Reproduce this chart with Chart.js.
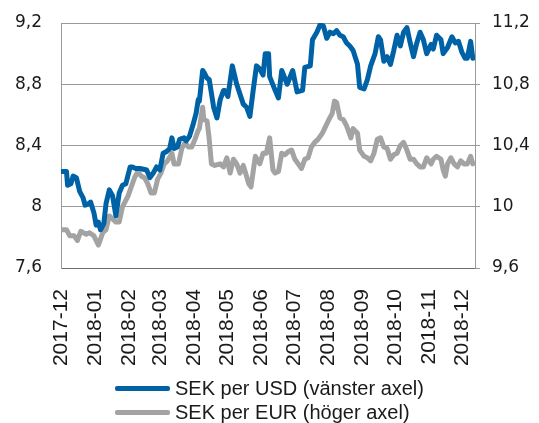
<!DOCTYPE html>
<html>
<head>
<meta charset="utf-8">
<script src="https://cdn.jsdelivr.net/npm/chart.js@4"></script>
<style>
  body { margin: 0; background: #fff; }
  #wrap { position: relative; width: 539px; height: 423px; }
  #legend { position: absolute; left: 115px; top: 376px; font: 20px "Liberation Sans", Arial, sans-serif; color: #1a1a1a; }
  .row { display: flex; align-items: center; height: 24px; }
  .swatch { width: 55px; height: 5px; border-radius: 2px; margin-right: 5px; }
</style>
</head>
<body>
<div id="wrap">
  <canvas id="myChart" width="539" height="423"></canvas>
  <div id="legend"></div>
</div>
<script>
  // x axis is days since 2017-12-01; labels at the first day of each month
  const monthLabels = ['2017-12','2018-01','2018-02','2018-03','2018-04','2018-05','2018-06',
    '2018-07','2018-08','2018-09','2018-10','2018-11','2018-12'];
  const monthStartDay = [0, 31, 62, 90, 121, 151, 182, 212, 243, 274, 304, 335, 365];
  const lastAxisDay = 377;

  const leftTicks = [7.6, 8, 8.4, 8.8, 9.2];
  const rightTicks = [9.6, 10, 10.4, 10.8, 11.2];

  // SEK per USD
  const usdDay = [0,5,6,9,11,14,17,20,22,25,27,30,32,34,36,39,41,44,47,50,
    53,56,59,63,65,68,72,78,81,84,87,90,93,96,99,101,103,106,108,112,
    114,117,120,123,125,126,129,130,133,135,139,142,145,148,149,152,156,160,166,169,
    172,175,178,181,184,186,189,190,195,198,201,206,211,215,220,222,227,229,233,236,
    239,242,245,248,251,254,257,260,263,266,270,272,276,279,282,286,289,291,294,297,
    300,303,306,309,312,315,318,321,324,327,330,333,337,339,342,346,348,352,356,359,
    362,365,368,370,373,375];
  const usdValue = [8.23,8.23,8.14,8.15,8.2,8.19,8.1,8.06,8.01,8.02,8.03,7.96,7.88,7.9,7.85,7.89,8.02,8.11,8.07,7.94,
    8.09,8.14,8.15,8.26,8.26,8.25,8.25,8.24,8.19,8.22,8.26,8.24,8.35,8.36,8.38,8.45,8.38,8.39,8.44,8.45,
    8.43,8.46,8.53,8.61,8.7,8.69,8.89,8.88,8.84,8.83,8.65,8.58,8.7,8.76,8.76,8.72,8.92,8.8,8.67,8.65,
    8.59,8.76,8.92,8.9,8.86,9.0,9.0,8.85,8.76,8.71,8.89,8.8,8.89,8.75,8.76,8.91,8.92,9.09,9.14,9.19,
    9.18,9.1,9.14,9.13,9.15,9.12,9.11,9.07,9.05,9.02,8.93,8.78,8.77,8.83,8.92,9.0,9.11,9.09,8.95,8.98,
    8.93,9.02,9.12,9.05,9.14,9.17,9.07,8.98,9.07,9.14,9.09,9.0,9.06,9.03,9.12,9.09,9.0,9.04,9.11,9.07,
    9.08,9.01,8.97,8.97,9.08,8.97];

  // SEK per EUR
  const eurDay = [0,5,8,12,15,18,23,26,30,34,38,41,44,47,50,53,56,61,64,67,
    70,73,76,79,82,85,88,91,94,97,101,103,107,110,113,116,119,122,125,126,
    129,130,133,135,137,140,145,148,151,154,157,160,163,166,171,173,177,181,184,187,
    190,193,195,198,201,204,207,210,213,216,219,222,225,228,231,234,238,240,244,247,
    249,251,254,257,260,262,264,266,270,272,276,279,282,285,288,291,294,297,300,303,
    306,309,312,315,318,321,324,327,330,333,337,339,342,346,348,350,352,355,358,361,
    364,367,370,373,375];
  const eurValue = [9.85,9.85,9.81,9.81,9.78,9.84,9.82,9.83,9.81,9.75,9.83,9.85,9.94,9.92,9.9,9.9,10.0,10.07,10.13,10.19,
    10.23,10.2,10.19,10.15,10.09,10.09,10.18,10.22,10.28,10.3,10.35,10.28,10.28,10.38,10.42,10.39,10.39,10.44,10.5,10.51,
    10.65,10.57,10.56,10.44,10.28,10.27,10.28,10.26,10.32,10.22,10.31,10.28,10.22,10.27,10.15,10.13,10.33,10.28,10.35,10.35,
    10.45,10.24,10.22,10.23,10.35,10.34,10.36,10.37,10.31,10.28,10.25,10.31,10.32,10.39,10.42,10.44,10.48,10.51,10.57,10.61,
    10.69,10.68,10.58,10.57,10.53,10.49,10.45,10.51,10.48,10.37,10.33,10.32,10.3,10.35,10.44,10.45,10.39,10.38,10.31,10.34,
    10.35,10.4,10.42,10.37,10.31,10.31,10.28,10.26,10.26,10.32,10.28,10.31,10.33,10.31,10.24,10.2,10.28,10.32,10.28,10.26,
    10.3,10.28,10.28,10.33,10.28];

  const seriesNames = ['SEK per USD (vänster axel)', 'SEK per EUR (höger axel)'];
  const seriesColors = ['rgb(0, 98, 166)', 'rgb(163, 163, 163)'];

  const toPoints = (xs, ys) => xs.map((x, i) => ({ x: x, y: ys[i] }));
  const fmt = v => String(Math.round(v * 10) / 10).replace('.', ',');

  const tickFont = { family: '"DejaVu Sans", sans-serif', size: 17 };

  const ctx = document.getElementById('myChart');

  new Chart(ctx, {
    type: 'line',
    data: {
      datasets: [{
        label: seriesNames[0],
        data: toPoints(usdDay, usdValue),
        borderColor: seriesColors[0],
        yAxisID: 'y'
      }, {
        label: seriesNames[1],
        data: toPoints(eurDay, eurValue),
        borderColor: seriesColors[1],
        yAxisID: 'y1'
      }]
    },
    options: {
      responsive: false,
      animation: false,
      layout: { padding: { top: 23, left: 0, right: 0, bottom: 0 } },
      elements: {
        point: { radius: 0 },
        line: { borderWidth: 5, tension: 0, borderJoinStyle: 'round', borderCapStyle: 'round' }
      },
      plugins: { legend: { display: false }, tooltip: { enabled: false } },
      scales: {
        x: {
          type: 'linear',
          min: 0,
          max: lastAxisDay,
          afterBuildTicks: s => { s.ticks = monthStartDay.map(d => ({ value: d })); },
          afterFit: s => { s.height = 155; },
          grid: { display: false },
          border: { display: true, color: '#6e6e6e', width: 1 },
          ticks: {
            minRotation: 90,
            maxRotation: 90,
            padding: 13,
            color: '#1a1a1a',
            font: { family: '"Liberation Sans", Arial, sans-serif', size: 21 },
            callback: v => monthLabels[monthStartDay.indexOf(v)]
          }
        },
        y: {
          position: 'left',
          min: 7.6,
          max: 9.2,
          afterBuildTicks: s => { s.ticks = leftTicks.map(v => ({ value: v })); },
          afterFit: s => { s.width = 61; },
          grid: { color: '#9a9a9a', drawTicks: true, tickLength: 7, tickColor: 'rgba(0,0,0,0)' },
          border: { display: true, color: '#9a9a9a' },
          ticks: { padding: 12, color: '#1a1a1a', font: tickFont, callback: v => fmt(v) }
        },
        y1: {
          position: 'right',
          min: 9.6,
          max: 11.2,
          afterBuildTicks: s => { s.ticks = rightTicks.map(v => ({ value: v })); },
          afterFit: s => { s.width = 64; },
          grid: { color: '#9a9a9a', drawOnChartArea: false, drawTicks: true, tickLength: 5 },
          border: { display: true, color: '#9a9a9a' },
          ticks: { padding: 12, color: '#1a1a1a', font: tickFont, callback: v => fmt(v) }
        }
      }
    }
  });

  // legend drawn as html rows so both rows start at the same x
  const legend = document.getElementById('legend');
  seriesNames.forEach((name, i) => {
    const row = document.createElement('div');
    row.className = 'row';
    const sw = document.createElement('span');
    sw.className = 'swatch';
    sw.style.background = seriesColors[i];
    const txt = document.createElement('span');
    txt.textContent = name;
    row.appendChild(sw);
    row.appendChild(txt);
    legend.appendChild(row);
  });
</script>
</body>
</html>
